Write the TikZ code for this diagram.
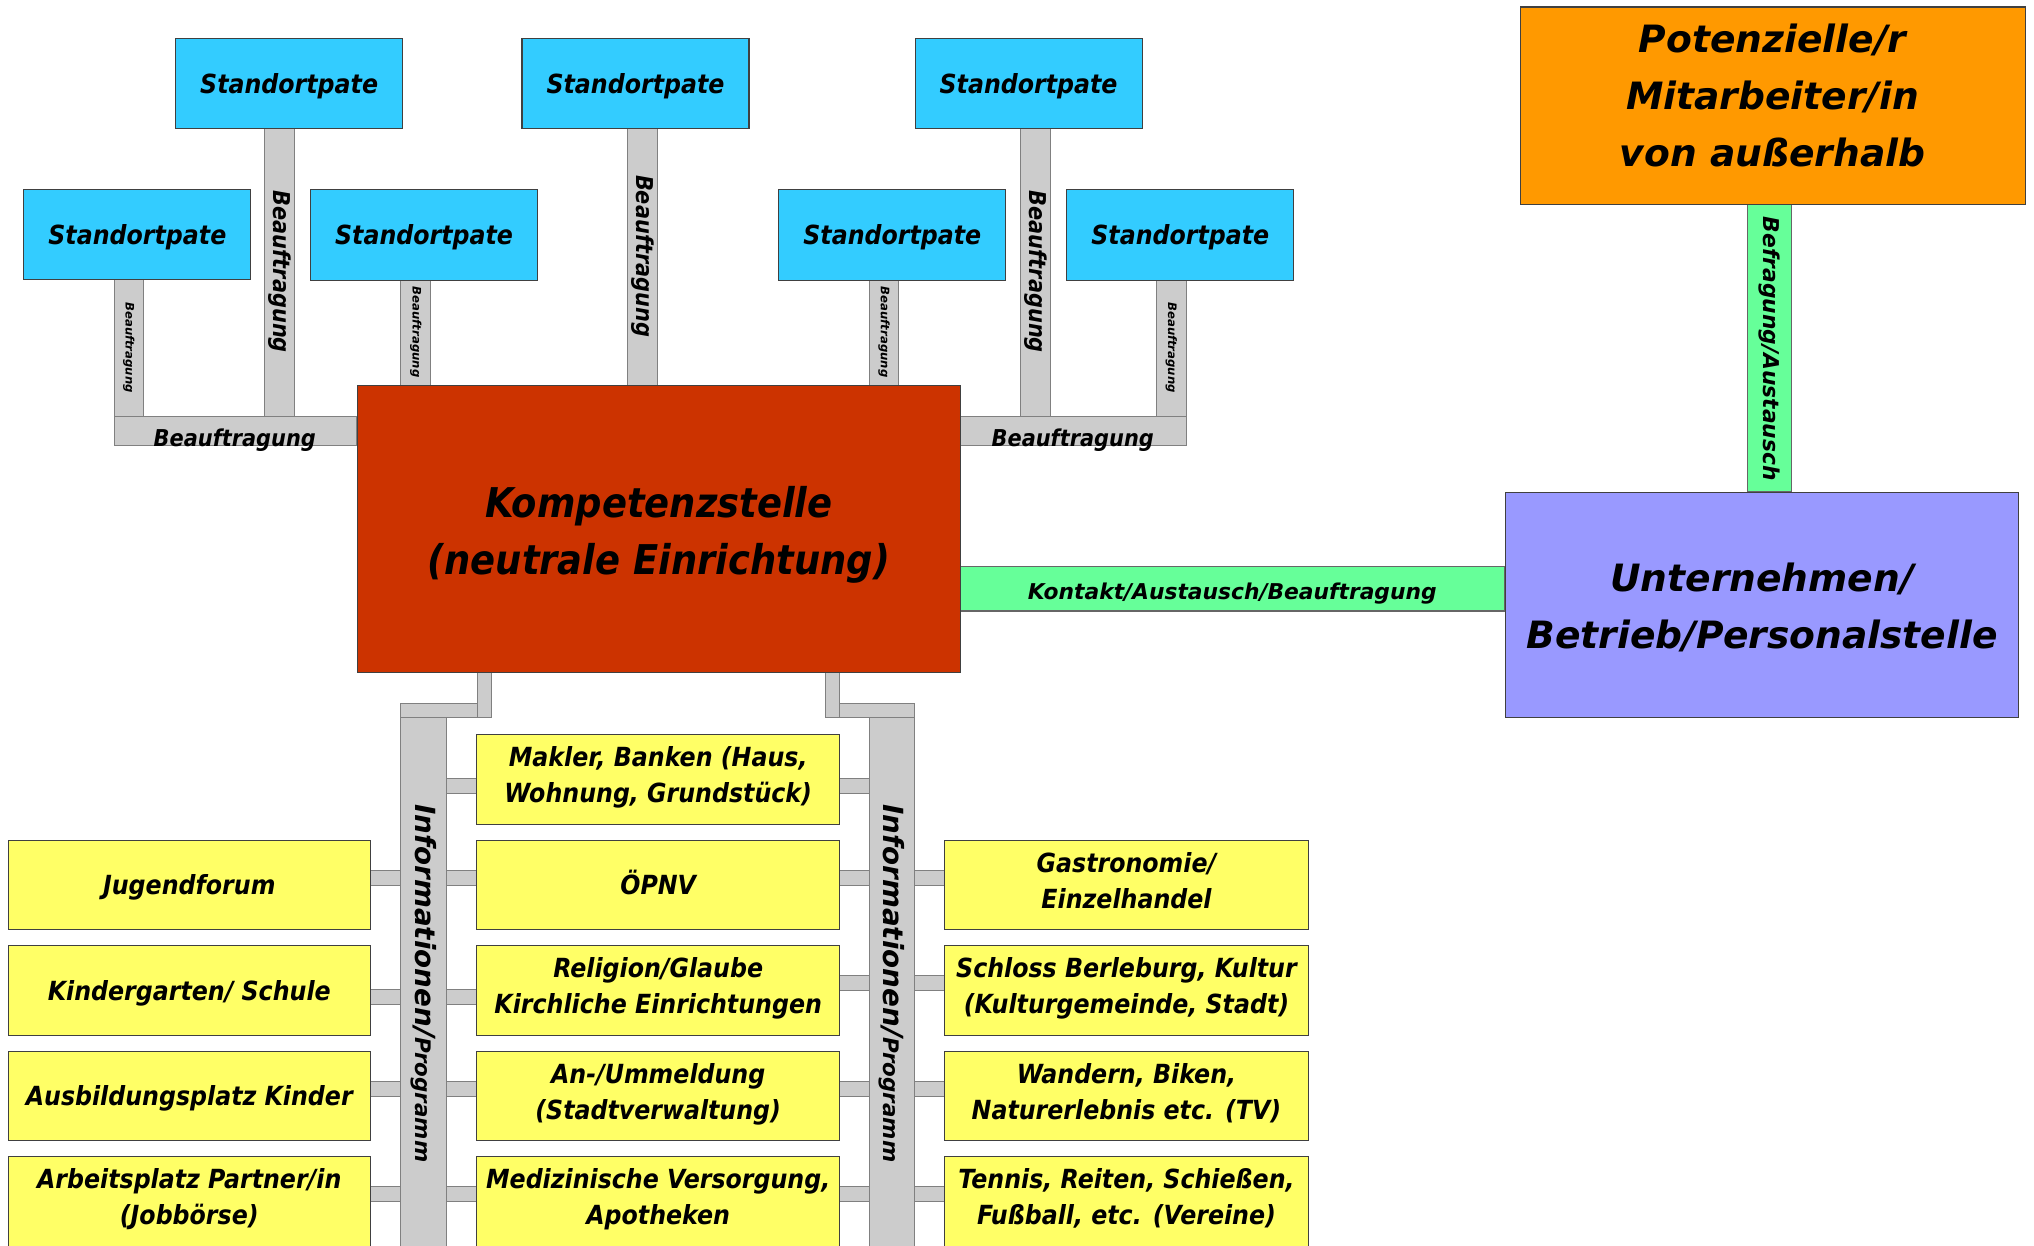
\documentclass[tikz,border=0pt]{standalone}
\usepackage{fontspec}
\newfontfamily\verd{DejaVu Sans Bold Oblique}
\newfontfamily\tah{DejaVu Sans Bold Oblique}[FakeStretch=0.9]
\definecolor{cblue}{HTML}{33CCFF}
\definecolor{cgray}{HTML}{CCCCCC}
\definecolor{cred}{HTML}{CC3300}
\definecolor{cgreen}{HTML}{66FF99}
\definecolor{cviolet}{HTML}{9999FF}
\definecolor{corange}{HTML}{FF9900}
\definecolor{cyellow}{HTML}{FFFF66}
% single line: top 1.0em, bottom -0.25em
\newcommand\sone{\rule[-0.25em]{0pt}{1.25em}}
% two lines: top of first line 0.8em, bottom of last line -0.4em
\newcommand\twol[2]{\rule[-0.25em]{0pt}{1.05em}#1\\#2\rule[-0.4em]{0pt}{1.2em}}
\begin{document}
\begin{tikzpicture}[x=1pt,y=-1pt,
  box/.style={draw=black!75, line width=0.8pt, inner sep=0pt, align=center, anchor=north west},
  pate/.style={box, fill=cblue, minimum width=175pt, minimum height=69.5pt, font=\tah\fontsize{20.3}{24}\selectfont},
  ybox/.style={box, fill=cyellow, minimum width=280pt, minimum height=69pt, font=\tah\fontsize{20.3}{28}\selectfont},
  bar/.style={fill=cgray, draw=black!50, line width=0.8pt},
  gbar/.style={fill=cgreen, draw=black!60, line width=0.8pt},
  smalllab/.style={rotate=-90, inner sep=0pt, font=\verd\fontsize{9}{9}\selectfont},
  biglab/.style={rotate=-90, inner sep=0pt, font=\tah\fontsize{17.9}{18}\selectfont},
  hlab/.style={anchor=base, inner sep=0pt, font=\tah\fontsize{17.9}{18}\selectfont},
  glab/.style={inner sep=0pt, font=\verd\fontsize{16.8}{17}\selectfont}
]
\useasboundingbox (0,0) rectangle (1568,960);

% ---- upper connectors (Beauftragung)
\draw[bar] (88,215) rectangle (110.5,321);
\draw[bar] (204,98) rectangle (227,321);
\draw[bar] (88,321) rectangle (275,343.5);
\draw[bar] (309,215) rectangle (332,297);
\draw[bar] (484,98) rectangle (507,297);
\draw[bar] (670,215) rectangle (693,297);
\draw[bar] (787,98) rectangle (810,321);
\draw[bar] (891.5,215) rectangle (914.5,321);
\draw[bar] (740,321) rectangle (914.5,343.5);

\node[smalllab] (lb1) at (99.25,268) {Beauftragung};
\node[biglab] (la1) at (215.5,209.5) {Beauftragung};
\node[hlab] (lh1) at (181,344.5) {Beauftragung};
\node[smalllab] (lb2) at (320.5,256) {Beauftragung};
\node[biglab] (la2) at (495.5,197.5) {Beauftragung};
\node[smalllab] (lb3) at (681.5,256) {Beauftragung};
\node[biglab] (la3) at (798.5,209.5) {Beauftragung};
\node[smalllab] (lb4) at (903,268) {Beauftragung};
\node[hlab] (lh2) at (827,344.5) {Beauftragung};

% ---- green connectors
\draw[gbar] (740,437) rectangle (1160,471);
\node[glab] (lk) at (950,457.5) {Kontakt/Austausch/Beauftragung};
\draw[gbar] (1347,157) rectangle (1381,379);
\node[glab, rotate=-90] (lbf) at (1364,269) {Befragung/Austausch};

% ---- lower connectors
\draw[bar] (368,518) rectangle (379,553);
\draw[bar] (309,542) rectangle (368,553);
\draw[bar] (309,553) rectangle (344,975);
\draw[bar] (636,518) rectangle (647,553);
\draw[bar] (647,542) rectangle (705,553);
\draw[bar] (670,553) rectangle (705,975);
\node[inner sep=0pt, rotate=-90] (infoL) at (326.5,758)
  {{\verd\fontsize{21.4}{22}\selectfont Informationen/}{\verd\fontsize{16.5}{17}\selectfont Programm}};
\node[inner sep=0pt, rotate=-90] (infoR) at (687.5,758)
  {{\verd\fontsize{21.4}{22}\selectfont Informationen/}{\verd\fontsize{16.5}{17}\selectfont Programm}};

% stubs to yellow boxes
\foreach \t/\a/\b in {566/344/367, 566/647/670,
  728.6/285/309, 728.6/344/367}
  \draw[bar] (\a,\t+34.5) rectangle (\b,\t+46);
\foreach \t/\a/\b in {647.3/285/309, 647.3/344/367, 647.3/647/670, 647.3/705/728,
  728.6/647/670, 728.6/705/728,
  810/285/309, 810/344/367, 810/647/670, 810/705/728,
  891.2/285/309, 891.2/344/367, 891.2/647/670, 891.2/705/728}
  \draw[bar] (\a,\t+23.5) rectangle (\b,\t+35);

% ---- Standortpaten
\node[pate] (A1) at (135,29) {\sone Standortpate};
\node[pate] (A2) at (402,29) {\sone Standortpate};
\node[pate] (A3) at (705,29) {\sone Standortpate};
\node[pate] (B1) at (18,145.5) {\sone Standortpate};
\node[pate] (B2) at (239,146) {\sone Standortpate};
\node[pate] (B3) at (600,146) {\sone Standortpate};
\node[pate] (B4) at (822,146) {\sone Standortpate};

% ---- main boxes
\node[box, fill=cred, minimum width=465pt, minimum height=221pt,
  font=\tah\fontsize{31.6}{44}\selectfont] (K) at (275,297)
  {\rule{0pt}{1.05em}Kompetenzstelle\\(neutrale Einrichtung)\rule[-0.22em]{0pt}{0.5em}};
\node[box, fill=cviolet, minimum width=396pt, minimum height=174pt,
  font=\verd\fontsize{29}{44}\selectfont] (U) at (1160,379)
  {\rule{0pt}{1.0em}Unternehmen/\\Betrieb/Personalstelle\rule[-0.2em]{0pt}{0.5em}};
\node[box, fill=corange, minimum width=389pt, minimum height=152pt] (P) at (1172,5) {};
\node[inner sep=0pt, align=center, font=\verd\fontsize{29}{44}\selectfont] (Pt) at (1366.5,73.5)
  {Potenzielle/r\\Mitarbeiter/in\\von außerhalb};

% ---- yellow boxes
\node[ybox, minimum width=279pt] (L1) at (6,647.3) {\sone Jugendforum};
\node[ybox, minimum width=279pt] (L2) at (6,728.6) {\sone Kindergarten/ Schule};
\node[ybox, minimum width=279pt] (L3) at (6,810) {\sone Ausbildungsplatz Kinder};
\node[ybox, minimum width=279pt] (L4) at (6,891.2) {\twol{Arbeitsplatz Partner/in}{(Jobbörse)}};
\node[ybox] (M0) at (367,566) {\twol{Makler, Banken (Haus,}{Wohnung, Grundstück)}};
\node[ybox] (M1) at (367,647.3) {\sone ÖPNV};
\node[ybox] (M2) at (367,728.6) {\twol{Religion/Glaube}{Kirchliche Einrichtungen}};
\node[ybox] (M3) at (367,810) {\twol{An-/Ummeldung}{(Stadtverwaltung)}};
\node[ybox] (M4) at (367,891.2) {\twol{Medizinische Versorgung,}{Apotheken}};
\node[ybox] (R1) at (728,647.3) {\twol{Gastronomie/}{Einzelhandel}};
\node[ybox] (R2) at (728,728.6) {\twol{Schloss Berleburg, Kultur}{(Kulturgemeinde, Stadt)}};
\node[ybox] (R3) at (728,810) {\twol{Wandern, Biken,}{Naturerlebnis etc. (TV)}};
\node[ybox] (R4) at (728,891.2) {\twol{Tennis, Reiten, Schießen,}{Fußball, etc. (Vereine)}};
\end{tikzpicture}
\end{document}
